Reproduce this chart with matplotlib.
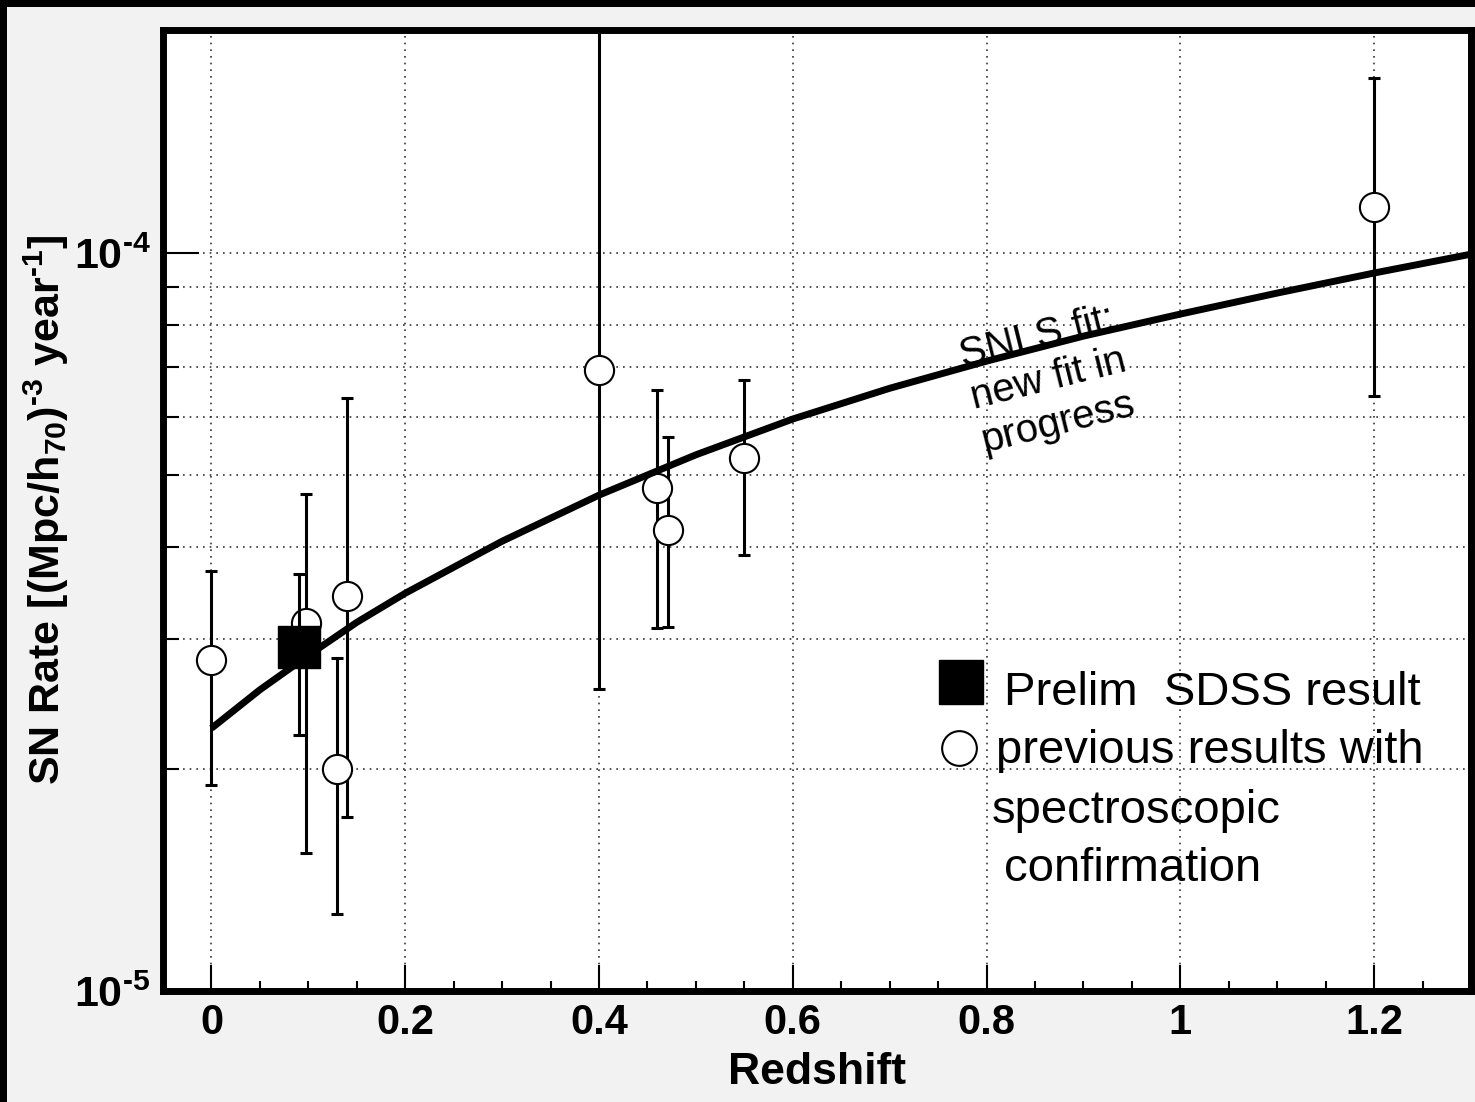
import matplotlib
matplotlib.use("Agg")
import matplotlib.pyplot as plt
from matplotlib.patches import Rectangle
from matplotlib.ticker import FixedLocator, MultipleLocator, NullFormatter
import numpy as np

plt.rcParams['font.family'] = 'Liberation Sans'
plt.rcParams['mathtext.fontset'] = 'custom'
plt.rcParams['mathtext.rm'] = 'Liberation Sans:bold'
plt.rcParams['mathtext.bf'] = 'Liberation Sans:bold'
plt.rcParams['mathtext.default'] = 'bf'

# previous results (open circles), rate in units of 1e-5
prev_z = [0.0, 0.098, 0.130, 0.140, 0.400, 0.460, 0.471, 0.550, 1.200]
prev_rate = [2.81, 3.15, 2.00, 3.43, 6.94, 4.80, 4.21, 5.27, 11.55]
prev_lo = [1.90, 1.54, 1.27, 1.72, 2.57, 3.10, 3.11, 3.90, 6.40]
prev_hi = [3.71, 4.72, 2.83, 6.36, 30.0, 6.52, 5.64, 6.73, 17.29]

# preliminary SDSS result (filled square)
sdss_z = [0.090]
sdss_rate = [2.93]
sdss_lo = [2.22]
sdss_hi = [3.67]

# SNLS fit curve
fit_z = [0.0, 0.05, 0.1, 0.15, 0.2, 0.3, 0.4, 0.5, 0.6, 0.7, 0.8, 0.9, 1.0, 1.1, 1.2, 1.3]
fit_rate = [2.27, 2.56, 2.85, 3.16, 3.46, 4.07, 4.70, 5.33, 5.96, 6.56, 7.14, 7.72,
            8.27, 8.83, 9.40, 9.97]

x_ticks = [0, 0.2, 0.4, 0.6, 0.8, 1.0, 1.2]
x_ticklabels = ["0", "0.2", "0.4", "0.6", "0.8", "1", "1.2"]

scale = 1e-5


def to_arr(v):
    return np.array(v) * scale


fig = plt.figure(figsize=(14.75, 11.02), dpi=100, facecolor="#f2f2f2")
W, H = 1475, 1102
ax = fig.add_axes([163 / W, 1 - 991 / H, (1471 - 163) / W, (991 - 29.5) / H])

# frame of the slide (top and left)
fig.patches.append(Rectangle((0, 1 - 7 / H), 1, 7 / H, transform=fig.transFigure,
                             facecolor="black", edgecolor="none"))
fig.patches.append(Rectangle((0, 0), 7 / W, 1, transform=fig.transFigure,
                             facecolor="black", edgecolor="none"))

ax.set_yscale("log")
ax.set_xlim(-0.05, 1.3)
ax.set_ylim(1e-5, 2.01e-4)

# grid
grid_kw = dict(color="#333333", linewidth=1.2, linestyle=(0, (1, 3)), zorder=1)
for xv in x_ticks:
    ax.axvline(xv, **grid_kw)
for yv in [2e-5, 3e-5, 4e-5, 5e-5, 6e-5, 7e-5, 8e-5, 9e-5, 1e-4]:
    ax.axhline(yv, **grid_kw)

# previous results
r = to_arr(prev_rate)
yerr = [r - to_arr(prev_lo), to_arr(prev_hi) - r]
ax.errorbar(prev_z, r, yerr=yerr, fmt="none", ecolor="black", elinewidth=2.2,
            capsize=4, capthick=2.2, zorder=3)
ax.plot(prev_z, r, "o", ms=21, mfc="white", mec="black", mew=1.5, zorder=4)

# fit curve
ax.plot(fit_z, to_arr(fit_rate), color="black", lw=5, solid_capstyle="butt",
        solid_joinstyle="round", zorder=5)

# SDSS point
rs = to_arr(sdss_rate)
ax.errorbar(sdss_z, rs, yerr=[rs - to_arr(sdss_lo), to_arr(sdss_hi) - rs], fmt="none",
            ecolor="black", elinewidth=2.2, capsize=4, capthick=2.2, zorder=6)
ax.plot(sdss_z, rs, "s", ms=30, color="black", zorder=7)

# axes styling
for s in ax.spines.values():
    s.set_linewidth(5)
    s.set_zorder(10)
ax.xaxis.set_major_locator(FixedLocator(x_ticks))
ax.xaxis.set_minor_locator(MultipleLocator(0.05))
ax.set_xticklabels(x_ticklabels)
ax.yaxis.set_major_locator(FixedLocator([1e-5, 1e-4]))
ax.yaxis.set_minor_locator(FixedLocator([k * 1e-5 for k in range(2, 10)] + [2e-4]))
ax.yaxis.set_minor_formatter(NullFormatter())
ax.set_yticklabels([r"$10^{\text{-}5}$", r"$10^{\text{-}4}$"])
ax.tick_params(axis="x", which="major", direction="in", length=19, width=1.5,
               labelsize=30, pad=9, top=False)
ax.tick_params(axis="x", which="minor", direction="in", length=7, width=1.5, top=False)
ax.tick_params(axis="y", which="major", direction="in", length=26, width=1.5,
               labelsize=31, pad=9, right=False)
ax.tick_params(axis="y", which="minor", direction="in", length=11.5, width=1.5, right=False)
for lab in ax.get_xticklabels():
    lab.set_fontweight("bold")

ax.set_xlabel("Redshift", fontsize=32, fontweight="bold", labelpad=6)
ax.set_ylabel(r"SN Rate [(Mpc/h$_{70}$)$^{\text{-}3}$ year$^{\text{-}1}$]", fontsize=31,
              fontweight="bold", labelpad=2)

# annotation on the curve
ax.text(0.677, 0.636, "SNLS fit:\nnew fit in\nprogress", transform=ax.transAxes,
        rotation=14, rotation_mode="anchor", ha="center", va="center",
        multialignment="left", fontsize=29, linespacing=1.2, zorder=8)

# legend drawn by hand
ax.plot([0.610], [0.3209], "s", ms=32, color="black", transform=ax.transAxes,
        clip_on=False, zorder=8)
ax.plot([0.6082], [0.2527], "o", ms=25, mfc="white", mec="black", mew=1.5,
        transform=ax.transAxes, clip_on=False, zorder=8)
leg_kw = dict(transform=ax.transAxes, fontsize=34, va="baseline", ha="left", zorder=8)
ax.text(0.6433, 0.2974, "Prelim  SDSS result", **leg_kw)
ax.text(0.6369, 0.2371, "previous results with", **leg_kw)
ax.text(0.6336, 0.1747, "spectroscopic", **leg_kw)
ax.text(0.6433, 0.1147, "confirmation", **leg_kw)

fig.savefig("out.png", dpi=100, facecolor=fig.get_facecolor())
